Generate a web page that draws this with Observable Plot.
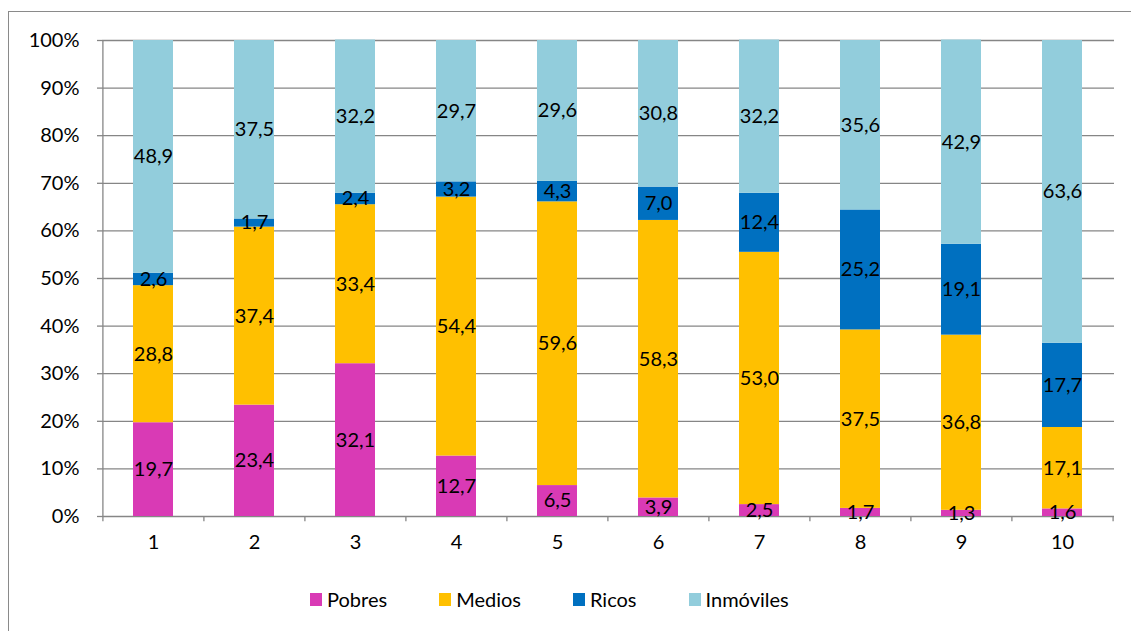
<!DOCTYPE html>
<html>
<head>
<meta charset="utf-8">
<script src="https://cdn.jsdelivr.net/npm/d3@7"></script>
<script src="https://cdn.jsdelivr.net/npm/@observablehq/plot@0.6"></script>
<style>
  html, body { margin: 0; padding: 0; overflow: hidden; background: white; width: 1131px; height: 631px; }
  #frame { position: absolute; left: 8px; top: 11px; width: 1200px; height: 700px; border-left: 1px solid #8a8a8a; border-top: 1px solid #8a8a8a; pointer-events: none; }
  #chart { position: absolute; left: 0; top: 0; }
  #legend { position: absolute; left: 310px; top: 587px; display: flex; gap: 52px; font-family: Lato, sans-serif; font-size: 20px; color: black; }
  #legend .item { display: flex; align-items: center; }
  #legend .sw { width: 12px; height: 13px; margin-right: 5px; }
</style>
</head>
<body>
<div id="chart"></div>
<div id="legend"></div>
<div id="frame"></div>
<script>
const categories = ["1", "2", "3", "4", "5", "6", "7", "8", "9", "10"];
const series = ["Pobres", "Medios", "Ricos", "Inmóviles"];
const pobres    = [19.7, 23.4, 32.1, 12.7, 6.5, 3.9, 2.5, 1.7, 1.3, 1.6];
const medios    = [28.8, 37.4, 33.4, 54.4, 59.6, 58.3, 53.0, 37.5, 36.8, 17.1];
const ricos     = [2.6, 1.7, 2.4, 3.2, 4.3, 7.0, 12.4, 25.2, 19.1, 17.7];
const inmoviles = [48.9, 37.5, 32.2, 29.7, 29.6, 30.8, 32.2, 35.6, 42.9, 63.6];
const colors = ["#d93ab5", "#ffc000", "#0070c0", "#92cddc"];
const yTicks = [0, 10, 20, 30, 40, 50, 60, 70, 80, 90, 100];

const seriesValues = [pobres, medios, ricos, inmoviles];
const data = series.flatMap((s, i) => seriesValues[i].map((v, j) => ({cat: categories[j], series: s, value: v})));
const fmt = v => v.toFixed(1).replace(".", ",");

const W = 1131, ML = 102, MR = 17;
const step = (W - ML - MR) / categories.length;
const gray = "#868686";

const chart = Plot.plot({
  width: W,
  height: 560,
  marginLeft: ML,
  marginRight: MR,
  marginTop: 40,
  marginBottom: 44,
  style: {fontFamily: "Lato, sans-serif", fontSize: "20px", color: "black", background: "transparent"},
  x: {domain: categories, paddingInner: 0.6, paddingOuter: 0.3, label: null},
  y: {domain: [0, 100], label: null},
  color: {domain: series, range: colors},
  marks: [
    Plot.ruleY(yTicks, {stroke: gray, strokeWidth: 1.3}),
    Plot.ruleX([categories[0]], {dx: -step / 2, y1: 0, y2: 100, stroke: gray, strokeWidth: 1.3}),
    Plot.ruleX(categories, {dx: -step / 2, y1: 0, y2: -1.1, stroke: gray, strokeWidth: 1.3}),
    Plot.ruleX([categories[categories.length - 1]], {dx: step / 2, y1: 0, y2: -1.1, stroke: gray, strokeWidth: 1.3}),
    Plot.barY(data, {x: "cat", y: "value", fill: "series"}),
    Plot.text(data, Plot.stackY({x: "cat", y: "value", text: d => fmt(d.value), fill: "black"})),
    Plot.axisY({ticks: yTicks, tickFormat: d => d + "%", tickSize: 5, tickPadding: 18, stroke: gray, strokeWidth: 1.3, label: null}),
    Plot.axisX({tickSize: 0, tickPadding: 18, label: null})
  ]
});
document.getElementById("chart").appendChild(chart);

const legend = document.getElementById("legend");
series.forEach((s, i) => {
  const item = document.createElement("div");
  item.className = "item";
  const sw = document.createElement("span");
  sw.className = "sw";
  sw.style.background = colors[i];
  const t = document.createElement("span");
  t.textContent = s;
  item.appendChild(sw);
  item.appendChild(t);
  legend.appendChild(item);
});
</script>
</body>
</html>
